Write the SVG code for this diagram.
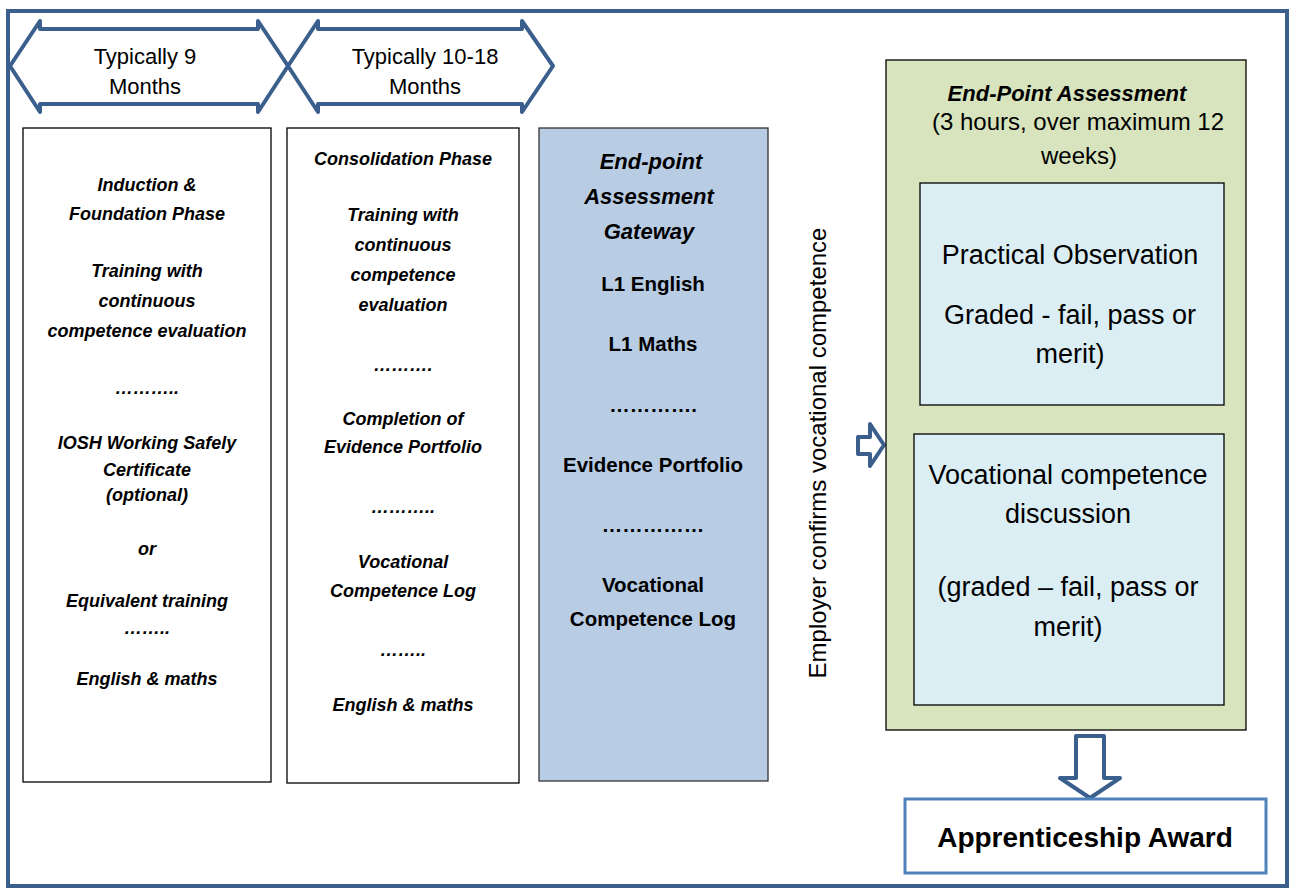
<svg xmlns="http://www.w3.org/2000/svg" width="1291" height="889" viewBox="0 0 1291 889">
<style>
.t{font-family:"Liberation Sans",Arial,sans-serif;fill:#000;text-anchor:middle}
.bi{font-weight:bold;font-style:italic;font-size:18px}
.b{font-weight:bold;font-size:20.5px}
.r{font-size:27px}
.hdr{font-size:22px}
.box{fill:#fff;stroke:#000;stroke-width:1.3}
.blk{fill:none;stroke:#3b5f8c;stroke-width:4;stroke-linejoin:round}
</style>
<rect x="8" y="11" width="1279" height="875" fill="#fff" stroke="#3b5f8c" stroke-width="4"/>
<g id="arrow1">
<path class="blk" d="M10,66 L40,21 L40,29 L258,29 L258,21 L288,66 L258,112 L258,104 L40,104 L40,112 Z"/>
<text class="t hdr" x="145" y="64">Typically 9</text>
<text class="t hdr" x="145" y="94">Months</text>
</g>
<g id="arrow2">
<path class="blk" d="M288,66 L318,21 L318,29 L522,29 L522,21 L553,66 L522,112 L522,104 L318,104 L318,112 Z"/>
<text class="t hdr" x="425" y="64">Typically 10-18</text>
<text class="t hdr" x="425" y="94">Months</text>
</g>
<g id="phase1">
<rect class="box" x="23" y="128" width="248" height="654"/>
<text class="t bi" x="147" y="191">Induction &amp;</text>
<text class="t bi" x="147" y="220">Foundation Phase</text>
<text class="t bi" x="147" y="277">Training with</text>
<text class="t bi" x="147" y="307">continuous</text>
<text class="t bi" x="147" y="337">competence evaluation</text>
<text class="t bi" x="147" y="394">………..</text>
<text class="t bi" x="147" y="449">IOSH Working Safely</text>
<text class="t bi" x="147" y="476">Certificate</text>
<text class="t bi" x="147" y="501">(optional)</text>
<text class="t bi" x="147" y="555">or</text>
<text class="t bi" x="147" y="607">Equivalent training</text>
<text class="t bi" x="147" y="634">……..</text>
<text class="t bi" x="147" y="685">English &amp; maths</text>
</g>
<g id="phase2">
<rect class="box" x="287" y="128" width="232" height="655"/>
<text class="t bi" x="403" y="165">Consolidation Phase</text>
<text class="t bi" x="403" y="221">Training with</text>
<text class="t bi" x="403" y="251">continuous</text>
<text class="t bi" x="403" y="281">competence</text>
<text class="t bi" x="403" y="311">evaluation</text>
<text class="t bi" x="403" y="371">……….</text>
<text class="t bi" x="403" y="425">Completion of</text>
<text class="t bi" x="403" y="453">Evidence Portfolio</text>
<text class="t bi" x="403" y="513">………..</text>
<text class="t bi" x="403" y="568">Vocational</text>
<text class="t bi" x="403" y="597">Competence Log</text>
<text class="t bi" x="403" y="656">……..</text>
<text class="t bi" x="403" y="711">English &amp; maths</text>
</g>
<g id="gateway">
<rect x="539" y="128" width="229" height="653" fill="#b8cce4" stroke="#333" stroke-width="1.3"/>
<text class="t" x="651" y="169" font-size="22" font-weight="bold" font-style="italic">End-point</text>
<text class="t" x="649" y="204" font-size="22" font-weight="bold" font-style="italic">Assessment</text>
<text class="t" x="649" y="239" font-size="22" font-weight="bold" font-style="italic">Gateway</text>
<text class="t b" x="653" y="291">L1 English</text>
<text class="t b" x="653" y="351">L1 Maths</text>
<text class="t b" x="653" y="412">………….</text>
<text class="t b" x="653" y="472">Evidence Portfolio</text>
<text class="t b" x="653" y="532">……………</text>
<text class="t b" x="653" y="592">Vocational</text>
<text class="t b" x="653" y="626">Competence Log</text>
</g>
<g id="connectors">
<text class="t" x="0" y="0" font-size="24" transform="translate(826,453) rotate(-90)">Employer confirms vocational competence</text>
<path class="blk" stroke-width="3.5" d="M858,437 L870,437 L870,424 L884,445 L870,466 L870,454 L858,454 Z"/>
<path class="blk" d="M1076,736 L1104,736 L1104,778 L1120,778 L1090,798 L1060,778 L1076,778 Z"/>
</g>
<g id="epa">
<rect x="886" y="60" width="360" height="670" fill="#d7e4bd" stroke="#000" stroke-width="1.3"/>
<text class="t" x="1067" y="101" font-size="22" font-weight="bold" font-style="italic">End-Point Assessment</text>
<text class="t" x="1078" y="130" font-size="24">(3 hours, over maximum 12</text>
<text class="t" x="1079" y="164" font-size="24">weeks)</text>
</g>
<g id="practical">
<rect x="920" y="183" width="304" height="222" fill="#dbeef4" stroke="#000" stroke-width="1.3"/>
<text class="t r" x="1070" y="264">Practical Observation</text>
<text class="t r" x="1070" y="324">Graded - fail, pass or</text>
<text class="t r" x="1070" y="363">merit)</text>
</g>
<g id="discussion">
<rect x="914" y="434" width="310" height="271" fill="#dbeef4" stroke="#000" stroke-width="1.3"/>
<text class="t r" x="1068" y="484">Vocational competence</text>
<text class="t r" x="1068" y="523">discussion</text>
<text class="t r" x="1068" y="596">(graded – fail, pass or</text>
<text class="t r" x="1068" y="636">merit)</text>
</g>
<g id="award">
<rect x="905" y="799" width="361" height="74" fill="#fff" stroke="#4f81bd" stroke-width="3"/>
<text class="t" x="1085" y="847" font-size="28" font-weight="bold">Apprenticeship Award</text>
</g>
</svg>
